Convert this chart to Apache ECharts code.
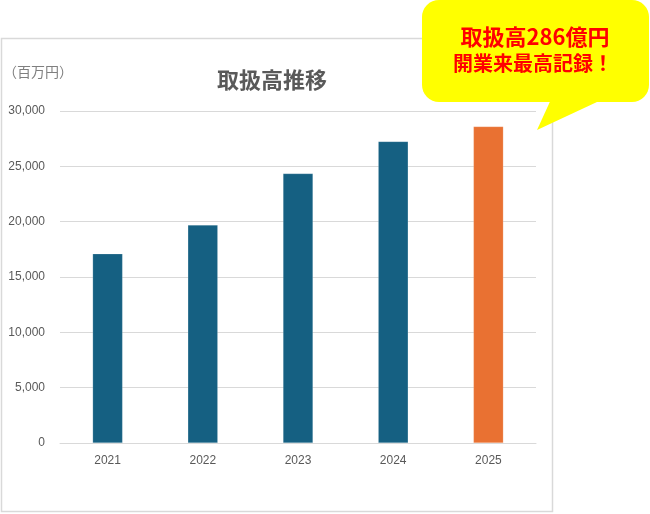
<!DOCTYPE html>
<html>
<head>
<meta charset="utf-8">
<script src="https://cdn.jsdelivr.net/npm/echarts@6/dist/echarts.min.js"></script>
<style>
html,body{margin:0;padding:0;background:#fff;}
#chart{width:650px;height:514px;}
</style>
</head>
<body>
<div id="chart"></div>
<script>
const categories = ['2021', '2022', '2023', '2024', '2025'];
const values = [17100, 19700, 24350, 27250, 28600];
const barColors = ['#156082', '#156082', '#156082', '#156082', '#E97132'];
const yTicks = { min: 0, max: 30000, interval: 5000 };
const titleText = '取扱高推移';
const unitText = '（百万円）';
const calloutLines = ['取扱高286億円', '開業来最高記録！'];

const FONT = '"Liberation Sans", "Noto Sans CJK JP", sans-serif';
const JFONT = '"Noto Sans CJK JP", sans-serif';

const chart = echarts.init(document.getElementById('chart'), null, { renderer: 'canvas' });
chart.setOption({
  animation: false,
  backgroundColor: '#ffffff',
  grid: { left: 60, right: 114, top: 111, bottom: 71, containLabel: false },
  xAxis: {
    type: 'category',
    data: categories,
    axisLine: { show: true, lineStyle: { color: '#d9d9d9', width: 1 } },
    axisTick: { show: false },
    axisLabel: { color: '#595959', fontSize: 12, fontFamily: FONT, margin: 12 }
  },
  yAxis: {
    type: 'value',
    min: yTicks.min,
    max: yTicks.max,
    interval: yTicks.interval,
    axisLine: { show: false },
    axisTick: { show: false },
    splitLine: { lineStyle: { color: '#d9d9d9', width: 1 } },
    axisLabel: {
      color: '#595959', fontSize: 12, fontFamily: FONT, margin: 15,
      formatter: v => v.toLocaleString('en-US')
    }
  },
  series: [{
    type: 'bar',
    data: values.map((v, i) => ({ value: v, itemStyle: { color: barColors[i] } })),
    barWidth: '31.5%',
    itemStyle: { borderColor: 'rgba(255,255,255,0.35)', borderWidth: 0.5 }
  }],
  graphic: [
    {
      type: 'rect', z: -1, silent: true,
      shape: { x: 1.5, y: 38.5, width: 551, height: 473 },
      style: { fill: 'none', stroke: '#d9d9d9', lineWidth: 1.5 }
    },
    {
      type: 'text', left: 3, top: 65, silent: true,
      style: { text: unitText, fill: '#7f7f7f', fontSize: 14, fontFamily: JFONT }
    },
    {
      type: 'text', silent: true,
      x: 272, y: 80,
      style: { text: titleText, fill: '#595959', fontSize: 22, fontWeight: 'bold', fontFamily: JFONT, align: 'center', verticalAlign: 'middle' }
    },
    {
      type: 'polygon', silent: true, z: 10,
      shape: { points: [[553, 95], [537, 130], [612, 95]] },
      style: { fill: '#ffff00' }
    },
    {
      type: 'rect', silent: true, z: 10,
      shape: { x: 422, y: 0, width: 227, height: 102, r: 17 },
      style: { fill: '#ffff00' }
    },
    {
      type: 'text', silent: true, z: 11,
      x: 535, y: 37,
      style: { text: calloutLines[0], fill: '#ff0000', fontSize: 22, fontWeight: 'bold', fontFamily: JFONT, align: 'center', verticalAlign: 'middle' }
    },
    {
      type: 'text', silent: true, z: 11,
      x: 533, y: 63,
      style: { text: calloutLines[1], fill: '#ff0000', fontSize: 20, fontWeight: 'bold', fontFamily: JFONT, align: 'center', verticalAlign: 'middle' }
    }
  ]
});
</script>
</body>
</html>
